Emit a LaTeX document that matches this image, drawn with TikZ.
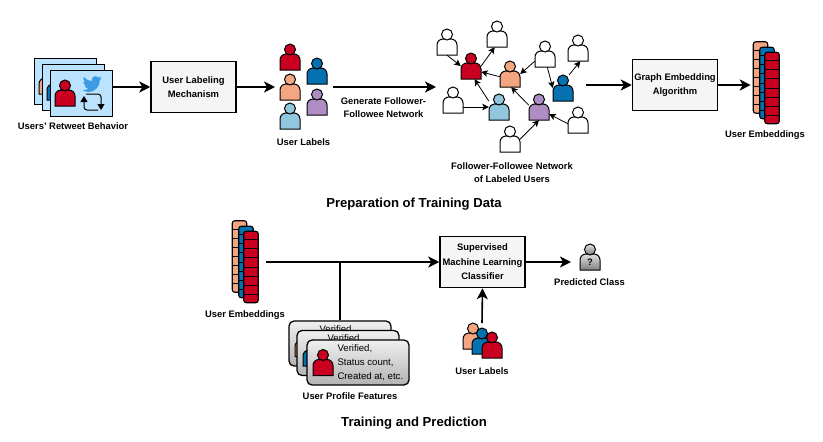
\documentclass[tikz,border=0pt]{standalone}
\usepackage{fontspec}
\setmainfont{Liberation Sans}
\usepackage{tikz}
\usetikzlibrary{arrows.meta, calc}
\usetikzlibrary{positioning}
\definecolor{user_red}{HTML}{CA0020}
\definecolor{user_orange}{HTML}{F4A582}
\definecolor{user_blue}{HTML}{0571B0}
\definecolor{user_sky}{HTML}{92C5DE}
\definecolor{user_purple}{HTML}{AF8DC3}
\definecolor{tweet_bg}{HTML}{BBE3FD}
\definecolor{bird_blue}{HTML}{3D9BE3}
\tikzstyle{main_arrow} = [
    line width=1.6pt,
    -{Stealth[length=11pt, width=11pt, inset=3pt]}
]
\tikzstyle{link} = [
    line width=0.8pt,
    -{Stealth[length=6.5pt, width=6.5pt, inset=1.5pt]}
]
\tikzstyle{box_node} = [
    draw=black,
    fill=black!4,
    line width=1.5pt,
    minimum width=85pt,
    minimum height=51pt,
    inner sep=0pt,
    align=center,
    execute at begin node={\rule{0pt}{10.5pt}},
    font=\fontsize{9.4}{14.6}\selectfont\bfseries
]
\tikzstyle{caption} = [
    align=center,
    inner sep=0pt,
    font=\fontsize{9.4}{13}\selectfont\bfseries
]
\tikzstyle{title} = [
    inner sep=0pt,
    font=\fontsize{13.1}{15}\selectfont\bfseries
]
\tikzstyle{person_node} = [
    minimum width=20pt,
    minimum height=26pt,
    inner sep=0pt
]
\tikzstyle{person_part} = [
    draw=black,
    line width=1pt
]
\tikzstyle{embed_bar} = [
    draw=black,
    line width=1.1pt,
    rounded corners=2.5pt,
    minimum width=14.5pt,
    minimum height=71.5pt,
    inner sep=0pt
]
\tikzstyle{tweet_card} = [
    draw=black,
    fill=tweet_bg,
    line width=1.3pt,
    minimum width=62pt,
    minimum height=46pt,
    inner sep=0pt
]
\tikzstyle{feature_card} = [
    draw=black,
    line width=1.3pt,
    rounded corners=5pt,
    top color=black!6,
    bottom color=black!30,
    minimum width=102pt,
    minimum height=45pt,
    inner sep=0pt
]
\tikzstyle{card_text} = [
    align=left,
    inner sep=0pt,
    font=\fontsize{9.6}{14}\selectfont
]
% person: name, position, fill
\newcommand{\person}[3]{
    \node [person_node] (#1) at (#2) {};
    \begin{scope}[shift={(#1.center)}]
        \draw [person_part, #3] (-10,13) [rounded corners=6pt] -- (-10,-3) -- (10,-3) [sharp corners] -- (10,13) -- cycle;
        \draw [person_part, #3] (0,-7.5) circle (5.5pt);
    \end{scope}
}
% one stacked vector of eight cells
\newcommand{\embedbar}[3]{
    \node [embed_bar, fill=#3] (#1) at (#2) {};
    \foreach \i in {1,...,7}
        \draw [line width=0.9pt] ($(#1.north west)!\i/8!(#1.south west)$) -- ($(#1.north east)!\i/8!(#1.south east)$);
}
\newcommand{\twitterbird}{
    \fill [bird_blue] (23.95,4.57) .. controls (23.1,4.95) and (22.1,5.2) .. (21.13,5.35)
        .. controls (22.1,4.75) and (22.9,3.75) .. (23.29,2.62)
        .. controls (22.34,3.18) and (21.29,3.58) .. (20.16,3.81)
        .. controls (19.2,2.7) and (17.9,1.9) .. (16.5,1.9)
        .. controls (13.8,1.9) and (11.6,4.1) .. (11.58,6.8)
        .. controls (11.58,7.3) and (11.65,7.8) .. (11.78,8.29)
        .. controls (7.69,8.1) and (4.07,6.13) .. (1.64,3.16)
        .. controls (1.2,3.9) and (0.97,4.75) .. (0.97,5.64)
        .. controls (0.97,7.35) and (1.84,8.85) .. (3.16,9.73)
        .. controls (2.35,9.7) and (1.6,9.5) .. (0.93,9.12)
        -- (0.93,9.18)
        .. controls (0.93,11.55) and (2.6,13.55) .. (4.88,14)
        .. controls (4.2,14.2) and (3.4,14.25) .. (2.67,14.09)
        .. controls (3.3,16.1) and (5.1,17.45) .. (7.27,17.5)
        .. controls (5.6,18.8) and (3.5,19.61) .. (1.17,19.61)
        .. controls (0.78,19.61) and (0.39,19.59) .. (0,19.54)
        .. controls (2.2,20.95) and (4.8,21.75) .. (7.56,21.75)
        .. controls (16.61,21.75) and (21.55,14.25) .. (21.55,7.77)
        .. controls (21.55,7.55) and (21.55,7.34) .. (21.54,7.14)
        .. controls (22.5,6.44) and (23.35,5.55) .. (23.95,4.57) -- cycle;
}
% tweet card: name, top left corner, fill of the user
\newcommand{\tweetcard}[3]{
    \node [tweet_card, anchor=north west] (#1) at (#2) {};
    \person{#1_user}{$(#1.north west)+(15,23)$}{fill=#3}
    \begin{scope}[shift={(#1.north west)}]
        \begin{scope}[shift={(32.5,4.5)}, scale=0.8]
            \twitterbird
        \end{scope}
        \draw [line width=1pt, rounded corners=3pt, -{Triangle[length=6pt, width=7pt]}] (48,40) -- (34,40) -- (34,26);
        \draw [line width=1pt, rounded corners=3pt, -{Triangle[length=6pt, width=7pt]}] (36,24) -- (51,24) -- (51,40);
    \end{scope}
}
% profile card: name, centre, fill of the user
\newcommand{\featurecard}[3]{
    \node [feature_card] (#1) at (#2) {};
    \person{#1_user}{[xshift=-35pt]#1.center}{fill=#3}
    \node [card_text, anchor=west, xshift=31pt] (#1_text) at (#1.west) {Verified,\\Status count,\\Created at, etc.};
}

\begin{document}
\begin{tikzpicture}[x=1pt, y=-1pt]
\useasboundingbox (0,0) rectangle (823,442);

% retweet cards
\tweetcard{tweet_a}{34,58}{user_orange}
\tweetcard{tweet_b}{42,64}{user_blue}
\tweetcard{tweet_c}{50,70}{user_red}
\node [caption] (tweet_label) at (73,126.5) {Users' Retweet Behavior};

\node [box_node] (labeling) at (193.5,87) {User Labeling\\Mechanism};

% user labels
\person{lab_red}{290,57}{fill=user_red}
\person{lab_blue}{317,71}{fill=user_blue}
\person{lab_orange}{290,87}{fill=user_orange}
\person{lab_purple}{317,102}{fill=user_purple}
\person{lab_sky}{290,116}{fill=user_sky}
\node [caption] (lab_label) at (303.5,142) {User Labels};
\coordinate (lab_in) at (275,87);
\coordinate (lab_out) at (333,87);
\coordinate (net_in) at (436,87);
\node [caption, below=10pt of $(lab_out)!0.5!(net_in)$, xshift=-1pt] (gen_label) {Generate Follower-\\Followee Network};

% follower-followee network
\person{net_a}{447,42}{fill=white}
\person{net_b}{497,34}{fill=white}
\person{net_c}{545,54}{fill=white}
\person{net_d}{578,48}{fill=white}
\person{net_e}{453,100}{fill=white}
\person{net_f}{578,120}{fill=white}
\person{net_g}{510,139}{fill=white}
\person{net_red}{471,66}{fill=user_red}
\person{net_orange}{510,74}{fill=user_orange}
\person{net_blue}{563,88}{fill=user_blue}
\person{net_sky}{499,107}{fill=user_sky}
\person{net_purple}{539,107}{fill=user_purple}
\draw [link] (net_a.south) -- (net_red.west);
\draw [link] (net_red.east) -- (net_b.-100);
\draw [link] (net_c.215) -- (net_orange.east);
\draw [link] (net_c.-80) -- (net_blue.west);
\draw [link] (net_blue.65) -- (net_d.-80);
\draw [link] (net_orange.195) -- (net_red.-30);
\draw [link] (net_sky.150) -- (net_red.-75);
\draw [link] (net_purple.170) -- (net_orange.-85);
\draw [link] (net_e.east |- net_sky.west) -- (net_sky.west);
\draw [link] (net_f.-160) -- (net_purple.-35);
\draw [link] (net_g.east) -- (net_purple.south);
\node [caption] (net_label) at (512,172.5) {Follower-Followee Network\\of Labeled Users};

\node [box_node] (graph_embed) at (675,85) {Graph Embedding\\Algorithm};

% embeddings, top
\embedbar{top_orange}{760.5,77.5}{user_orange}
\embedbar{top_blue}{767,83}{user_blue}
\embedbar{top_red}{772,88}{user_red}
\node [caption] (top_label) at (765,135) {User Embeddings};

\draw [main_arrow] (tweet_c.east |- labeling.west) -- (labeling.west);
\draw [main_arrow] (labeling.east) -- (lab_in);
\draw [main_arrow] (lab_out) -- (net_in);
\coordinate (net_out) at (586,85);
\draw [main_arrow] (net_out) -- (graph_embed.west);
\draw [main_arrow, shorten >=2pt] (graph_embed.east) -- (top_orange.west |- graph_embed.east);

\node [title] (title_top) at (414,204.5) {Preparation of Training Data};

% embeddings, bottom
\embedbar{low_orange}{239.5,256.5}{user_orange}
\embedbar{low_blue}{246,262}{user_blue}
\embedbar{low_red}{251,267}{user_red}
\node [caption] (low_label) at (245,315) {User Embeddings};

\node [box_node] (classifier) at (482.5,262) {Supervised\\Machine Learning\\Classifier};

% profile cards
\featurecard{feat_a}{340,343.5}{user_orange}
\featurecard{feat_b}{348,353}{user_blue}
\featurecard{feat_c}{358,362.5}{user_red}
\node [caption] (feat_label) at (350,396) {User Profile Features};

\coordinate (low_out) at (266,262);
\draw [main_arrow] (low_out) -- (classifier.west);
\draw [line width=1.6pt] (feat_a.north) -- (feat_a.north |- low_out);

% predicted class
\person{pred}{590,257}{top color=black!12, bottom color=black!50}
\node [caption, yshift=-5pt] (pred_mark) at (pred.center) {?};
\node [caption] (pred_label) at (589.5,282.5) {Predicted Class};
\draw [main_arrow] (classifier.east) -- (571,262);

% user labels, bottom
\person{grp_orange}{473,336}{fill=user_orange}
\person{grp_blue}{482,341}{fill=user_blue}
\person{grp_red}{492,345}{fill=user_red}
\node [caption] (grp_label) at (482,371) {User Labels};
\coordinate (grp_out) at (482,323);
\draw [main_arrow] (grp_out) -- (classifier.south);

\node [title] (title_low) at (414,423.5) {Training and Prediction};
\end{tikzpicture}
\end{document}
